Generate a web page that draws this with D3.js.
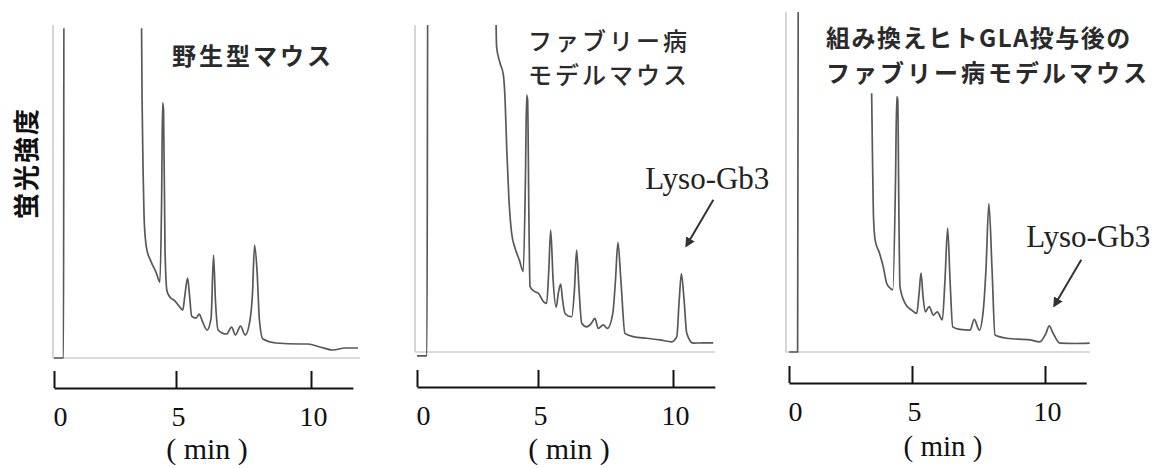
<!DOCTYPE html>
<html>
<head>
<meta charset="utf-8">
<script src="https://cdn.jsdelivr.net/npm/d3@7"></script>
<style>
  body { margin: 0; background: #fff; }
  .serif { font-family: "Liberation Serif", "DejaVu Serif", "Times New Roman", serif; }
  .cjk { font-family: "Noto Sans CJK JP", "Noto Sans", sans-serif; }
</style>
</head>
<body>
<svg id="chart" width="1164" height="468"></svg>
<script>
// values
// time in min, signal in % of full scale (130 = off the top, null = gap in trace)
const tickValues = [0, 5, 10];
const yLabel = "蛍光強度";
const xLabel = "( min )";
const peakLabel = "Lyso-Gb3";

// wild type mouse
const wtTitle = ["野生型マウス"];
const wtTime = [0, 0.39, 0.41, 3.55, 3.61, 3.65, 3.69, 3.75, 3.81, 3.95, 4.18, 4.34,
  4.41, 4.45, 4.49, 4.55, 4.63, 4.75, 4.96, 5.11, 5.25, 5.33, 5.43, 5.50, 5.58, 5.74,
  5.86, 5.96, 6.15, 6.30, 6.39, 6.46, 6.56, 6.87, 7.06, 7.20, 7.39, 7.56, 7.74, 7.83,
  7.91, 8.00, 8.09, 8.22, 8.70, 9.59, 9.89, 10.33, 10.81, 11.26, 11.74];
const wtSignal = [0, 0, 130, 130, 77.5, 56.5, 42.9, 35.4, 32.4, 29.4, 25.8, 22.8,
  47.4, 76.6, 74.5, 32.4, 20.1, 18.3, 17.1, 15.6, 14.4, 18.9, 24.0, 18.9, 12.6, 12.0,
  13.2, 11.4, 8.4, 12.0, 30.9, 17.4, 8.4, 7.2, 9.3, 6.9, 9.6, 6.9, 11.4, 18.9,
  33.9, 26.4, 11.4, 5.7, 4.5, 4.2, 4.2, 3.3, 2.4, 3.0, 3.0];

// fabry model mouse
const fbTitle = ["ファブリー病", "モデルマウス"];
const fbTime = [0, 0.41, 0.45, 3.20, 3.29, 3.43, 3.57, 3.64, 3.71, 3.80, 3.91, 4.05,
  4.23, 4.39, 4.48, 4.53, 4.57, 4.63, 4.67, 4.88, 5.01, 5.20, 5.32, 5.40, 5.47, 5.56,
  5.67, 5.76, 5.84, 5.91, 6.00, 6.12, 6.25, 6.35, 6.43, 6.52, 6.62, 6.80, 6.96, 7.11,
  7.23, 7.42, 7.57, 7.77, 7.87, 7.96, 8.07, 8.22, 8.53, 9.03, 9.52, 9.95, 10.14, 10.23,
  10.31, 10.41, 10.51, 10.75, 11.11, 11.49];
const fbSignal = [-1.2, -1.2, 130, 130, 93.3, 88.4, 84.7, 77.1, 61.8, 46.5, 36.4, 31.8,
  28.1, 24.6, 52.6, 78.6, 77.1, 37.3, 20.0, 18.4, 18.0, 15.4, 14.9, 25.1, 37.3, 22.0,
  13.7, 18.3, 20.8, 15.9, 11.8, 11.0, 10.8, 19.0, 31.2, 19.0, 8.8, 7.7, 8.6, 10.3,
  7.2, 8.3, 7.2, 11.8, 22.0, 33.5, 22.0, 5.7, 4.7, 4.2, 3.7, 3.1, 4.7, 15.9,
  23.9, 15.9, 5.7, 2.7, 2.8, 2.8];
const fbLysoPeak = [10.31, 23.9];

// fabry model mouse after recombinant human GLA
const trTitle = ["組み換えヒトGLA投与後の", "ファブリー病モデルマウス"];
const trTime = [0, 0.35, 0.38, 0.40, 3.36, 3.39, 3.43, 3.50, 3.67, 3.83, 3.97, 4.11,
  4.22, 4.33, 4.38, 4.42, 4.47, 4.51, 4.72, 4.99, 5.18, 5.26, 5.34, 5.41, 5.50, 5.65,
  5.80, 5.95, 6.14, 6.24, 6.34, 6.43, 6.53, 6.80, 7.18, 7.34, 7.53, 7.68, 7.78, 7.89,
  8.01, 8.12, 8.56, 9.44, 9.81, 10.04, 10.16, 10.30, 10.56, 11.12, 11.68];
const trSignal = [0, 0, 130, null, 79.1, 61.8, 42.4, 34.3, 30.4, 26.1, 21.0, 19.5,
  19.0, 52.6, 78.1, 77.1, 40.4, 20.0, 14.9, 12.8, 11.8, 17.4, 24.1, 17.4, 12.3, 13.9,
  11.3, 12.3, 9.8, 22.0, 37.9, 22.0, 7.7, 6.9, 6.7, 10.0, 6.7, 12.8, 25.1, 45.4,
  25.1, 5.2, 4.2, 3.7, 3.1, 5.8, 8.0, 5.8, 2.7, 2.6, 2.7];
const trLysoPeak = [10.16, 8.0];

const svg = d3.select("#chart");

svg.append("defs").append("marker")
  .attr("id", "arrow")
  .attr("viewBox", "0 0 10 10")
  .attr("refX", 8).attr("refY", 5)
  .attr("markerWidth", 5).attr("markerHeight", 5)
  .attr("orient", "auto")
  .append("path")
  .attr("d", "M0,0 L10,5 L0,10 z")
  .attr("fill", "#333");

// layout of each panel (the printed tick spacing is slightly uneven, so 3-point scales)
const panels = [
  { time: wtTime, signal: wtSignal, title: wtTitle, weight: 700, spacing: [3],
    xr: [54, 176, 311], base: 358, frameL: 53, frameR: 360, frameTop: 100, clip: 99,
    axisY: 388, axisEnd: 11.55, minY: 459, minSize: 30, titleX: 172, titleY: [65], lyso: null },
  { time: fbTime, signal: fbSignal, title: fbTitle, weight: 500, spacing: [3, 3],
    xr: [417, 538, 673], base: 352, frameL: 415, frameR: 715, frameTop: 100, clip: 100,
    axisY: 387, axisEnd: 11.55, minY: 459, minSize: 30, titleX: 528, titleY: [50, 84],
    lyso: fbLysoPeak, gap: 28, labelDx: -68, labelDy: -11 },
  { time: trTime, signal: trSignal, title: trTitle, weight: 700, spacing: [1.5, 3],
    xr: [789, 912, 1045], base: 352, frameL: 786, frameR: 1090, frameTop: 104, clip: 104,
    axisY: 383, axisEnd: 11.55, minY: 456, minSize: 29, titleX: 826, titleY: [47, 82],
    lyso: trLysoPeak, gap: 20, labelDx: -55, labelDy: -13 }
];

panels.forEach(function(p, i) {
  let x = d3.scaleLinear().domain(tickValues).range(p.xr);
  let y = d3.scaleLinear().domain([0, 100]).range([p.base, 25]);
  let g = svg.append("g");

  // light frame (left edge + zero line)
  g.append("line")
    .attr("x1", p.frameL).attr("x2", p.frameL)
    .attr("y1", y(0)).attr("y2", y(p.frameTop))
    .attr("stroke", "#c8c8c8").attr("stroke-width", 1.5);
  g.append("line")
    .attr("x1", p.frameL).attr("x2", p.frameR)
    .attr("y1", y(0)).attr("y2", y(0))
    .attr("stroke", "#cfcfcf").attr("stroke-width", 1.5);

  // trace, clipped at the top of the frame
  g.append("clipPath").attr("id", "clip" + i)
    .append("rect")
    .attr("x", p.frameL).attr("y", y(p.clip))
    .attr("width", p.frameR - p.frameL + 5)
    .attr("height", y(-5) - y(p.clip));

  let pts = p.time.map(function(t, j) { return { t: t, v: p.signal[j] }; });
  let line = d3.line()
    .defined(function(d) { return d.v !== null; })
    .x(function(d) { return x(d.t); })
    .y(function(d) { return y(d.v); })
    .curve(d3.curveMonotoneX);

  g.append("path")
    .datum(pts)
    .attr("clip-path", "url(#clip" + i + ")")
    .attr("d", line)
    .attr("fill", "none")
    .attr("stroke", "#585858")
    .attr("stroke-width", 1.7)
    .attr("stroke-linejoin", "round");

  // time axis bar below
  let tEnd = p.axisEnd;
  let axisScale = d3.scaleLinear()
    .domain([0, 5, 10, tEnd])
    .range([x(0), x(5), x(10), x(tEnd)]);
  let ax = g.append("g")
    .attr("transform", "translate(0," + p.axisY + ")")
    .call(d3.axisBottom(axisScale)
      .tickValues(tickValues)
      .tickSizeInner(-17)
      .tickSizeOuter(0)
      .tickPadding(18)
      .tickFormat(d3.format("d")));
  ax.attr("font-family", null).attr("font-size", null);
  ax.select(".domain").attr("stroke", "#111").attr("stroke-width", 2.2);
  ax.selectAll(".tick line").attr("stroke", "#111").attr("stroke-width", 2);
  ax.selectAll(".tick text")
    .attr("class", "serif")
    .style("font-size", "28px")
    .attr("fill", "#111")
    .attr("dx", function(d) { return d === 0 ? 6 : 2; });

  g.append("text")
    .attr("class", "serif")
    .attr("x", x(5) + 31).attr("y", p.minY)
    .attr("text-anchor", "middle")
    .style("font-size", p.minSize + "px")
    .attr("fill", "#111")
    .text(xLabel);

  // panel title
  p.title.forEach(function(s, k) {
    g.append("text")
      .attr("class", "cjk")
      .attr("x", p.titleX).attr("y", p.titleY[k])
      .style("font-weight", p.weight)
      .style("font-size", "24px")
      .attr("letter-spacing", p.spacing[k])
      .attr("fill", "#2a2a2a")
      .text(s);
  });

  // Lyso-Gb3 annotation
  if (p.lyso) {
    let ex = x(p.lyso[0]) + 5;
    let ey = y(p.lyso[1]) - p.gap;
    let sx = ex + 27;
    let sy = ey - 46;
    g.append("line")
      .attr("x1", sx).attr("y1", sy)
      .attr("x2", ex).attr("y2", ey)
      .attr("stroke", "#333").attr("stroke-width", 2)
      .attr("marker-end", "url(#arrow)");
    g.append("text")
      .attr("class", "serif")
      .attr("x", sx + p.labelDx).attr("y", sy + p.labelDy)
      .style("font-size", "31px")
      .attr("fill", "#222")
      .text(peakLabel);
  }
});

// shared y label
svg.append("text")
  .attr("class", "cjk")
  .attr("transform", "translate(36,163) rotate(-90)")
  .attr("text-anchor", "middle")
  .style("font-weight", 700)
  .style("font-size", "26px")
  .attr("letter-spacing", 2)
  .attr("fill", "#111")
  .text(yLabel);
</script>
</body>
</html>
